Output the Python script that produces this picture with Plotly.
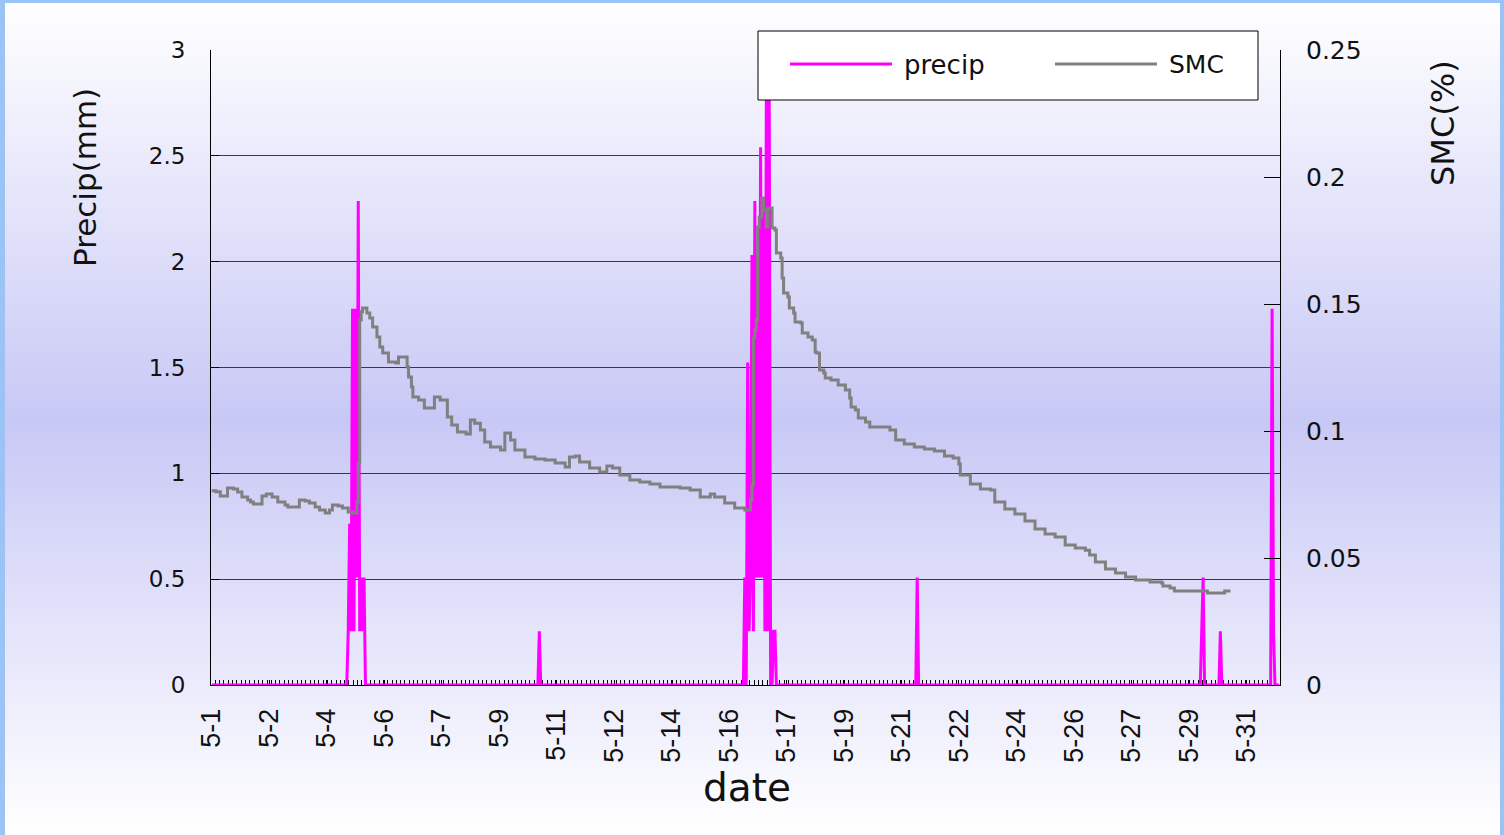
import plotly.graph_objects as go

# ---- hourly timeline for May: 744 hourly steps, labelled every 40 hours ----
N_HOURS = 744
tick_hours = [0, 40, 80, 120, 160, 200, 240, 280, 320, 360,
              400, 440, 480, 520, 560, 600, 640, 680, 720]
tick_labels = ["5-1", "5-2", "5-4", "5-6", "5-7", "5-9", "5-11", "5-12", "5-14", "5-16",
               "5-17", "5-19", "5-21", "5-22", "5-24", "5-26", "5-27", "5-29", "5-31"]

# ---- hourly precipitation (mm); hours not listed had no rain ----
rain_hours = [95, 96, 97, 98, 99, 100, 101, 102, 103, 104, 105, 106,
              228,
              371, 373, 374, 375, 376, 377, 378, 379, 380, 381, 382, 383, 384,
              385, 386, 387, 388, 391, 392,
              491,
              689, 690,
              702,
              738, 739]
rain_mm = [0.254, 0.762, 0.254, 1.778, 0.254, 1.778, 0.508, 2.286, 0.254, 0.508, 0.254, 0.508,
           0.254,
           0.508, 1.524, 0.254, 0.508, 2.032, 0.254, 2.286, 0.508, 2.032, 0.508, 2.54, 0.508, 2.286,
           0.254, 2.794, 0.254, 2.794, 0.254, 0.254,
           0.508,
           0.254, 0.508,
           0.254,
           1.778, 0.254]

# ---- soil moisture content: hour at which each recorded level begins ----
smc_hours = [0, 3, 6, 11, 15, 18, 21, 25, 27, 29, 35, 38, 42, 46, 51, 53, 61, 65, 68, 72,
             75, 79, 82, 84, 88, 91, 95, 98, 101, 102, 103, 104, 105, 108, 110, 112, 115, 117,
             119, 123, 128, 130, 136, 137, 139, 140, 144, 148, 155, 159, 164, 167, 171, 177,
             180, 183, 187, 190, 194, 201, 204, 208, 211, 218, 225, 232, 239, 246, 249, 253,
             256, 263, 270, 275, 279, 284, 291, 298, 305, 312, 326, 333, 340, 347, 350, 357,
             364, 371, 375, 376, 377, 378, 379, 380, 381, 383, 384, 386, 387, 390, 392, 393,
             396, 397, 398, 401, 402, 405, 406, 410, 411, 415, 418, 420, 421, 423, 426, 427,
             431, 436, 441, 444, 445, 448, 450, 455, 458, 472, 476, 482, 489, 496, 503, 510,
             516, 520, 521, 528, 535, 542, 545, 552, 559, 566, 573, 580, 587, 594, 601, 608,
             611, 615, 622, 629, 636, 643, 653, 661, 662, 667, 670, 693, 705, 709]
smc_values = [0.0765, 0.0761, 0.0744, 0.0776, 0.0772, 0.0760, 0.0740, 0.0728, 0.0720, 0.0713,
              0.0744, 0.0752, 0.0740, 0.0720, 0.0709, 0.0701, 0.0728, 0.0724, 0.0717, 0.0701,
              0.0689, 0.0677, 0.0689, 0.0709, 0.0705, 0.0697, 0.0681, 0.0677, 0.0720, 0.0874,
              0.1437, 0.1469, 0.1484, 0.1465, 0.1445, 0.1409, 0.1370, 0.1331, 0.1307, 0.1272,
              0.1268, 0.1291, 0.1252, 0.1213, 0.1173, 0.1134, 0.1122, 0.1091, 0.1134, 0.1122,
              0.1055, 0.1024, 0.0996, 0.0988, 0.1043, 0.1031, 0.1004, 0.0957, 0.0937, 0.0925,
              0.0992, 0.0965, 0.0925, 0.0898, 0.0890, 0.0886, 0.0874, 0.0858, 0.0898, 0.0902,
              0.0878, 0.0854, 0.0839, 0.0862, 0.0854, 0.0827, 0.0807, 0.0799, 0.0791, 0.0780,
              0.0776, 0.0768, 0.0740, 0.0752, 0.0740, 0.0717, 0.0697, 0.0689, 0.0728, 0.0787,
              0.1366, 0.1398, 0.1437, 0.1803, 0.1843, 0.1917, 0.1870, 0.1803, 0.1878, 0.1799,
              0.1791, 0.1701, 0.1681, 0.1602, 0.1543, 0.1528, 0.1484, 0.1465, 0.1429, 0.1425,
              0.1386, 0.1370, 0.1358, 0.1311, 0.1307, 0.1240, 0.1228, 0.1209, 0.1201, 0.1181,
              0.1161, 0.1130, 0.1094, 0.1083, 0.1051, 0.1035, 0.1016, 0.1004, 0.0965, 0.0949,
              0.0937, 0.0929, 0.0921, 0.0902, 0.0894, 0.0870, 0.0827, 0.0791, 0.0772, 0.0768,
              0.0720, 0.0693, 0.0673, 0.0646, 0.0614, 0.0594, 0.0583, 0.0551, 0.0539, 0.0531,
              0.0512, 0.0484, 0.0457, 0.0441, 0.0425, 0.0413, 0.0406, 0.0402, 0.0390, 0.0382,
              0.0370, 0.0362, 0.0370, 0.0370]

# full hourly precipitation series
hours = list(range(N_HOURS))
precip = [0.0] * N_HOURS
for h, v in zip(rain_hours, rain_mm):
    precip[h] = v

# ---- page geometry (pixels) ----
W, H = 1504, 835
ML, MR, MT, MB = 211, 224, 50, 150
PW, PH = W - ML - MR, H - MT - MB


def px(x):
    return (x - ML) / PW


def py(y):
    return (H - MB - y) / PH


TEXT = "#111111"
WIDE = "DejaVu Sans, Verdana, sans-serif"
NARROW = "Liberation Sans, Arial, sans-serif"

fig = go.Figure()
fig.add_trace(go.Scatter(
    x=hours, y=precip, name="precip", mode="lines",
    line=dict(color="#FF00FF", width=3), yaxis="y"))
fig.add_trace(go.Scatter(
    x=smc_hours, y=smc_values, name="SMC", mode="lines",
    line=dict(color="#808080", width=3, shape="hv"), yaxis="y2"))

# ---- background: vertical white -> lavender -> white wash, blue frame ----
shapes = []
STEP = 5
top_c, mid_c, bot_c = (255, 255, 255), (200, 200, 246), (255, 255, 255)
MID_Y = 420
for y0 in range(0, H, STEP):
    yc = y0 + STEP / 2
    if yc <= MID_Y:
        t = yc / MID_Y
        c = [a + (b - a) * t for a, b in zip(top_c, mid_c)]
    else:
        t = (yc - MID_Y) / (H - MID_Y)
        c = [a + (b - a) * t for a, b in zip(mid_c, bot_c)]
    shapes.append(dict(type="rect", xref="paper", yref="paper", layer="below",
                       x0=px(0), x1=px(W), y0=py(y0 + STEP), y1=py(y0),
                       fillcolor="rgb(%d,%d,%d)" % tuple(round(v) for v in c),
                       line=dict(width=0)))
FRAME = "#9cc3f6"
for x0, x1, y0, y1 in [(0, 5, 0, H), (0, W, 0, 3), (W - 4, W, 0, H)]:
    shapes.append(dict(type="rect", xref="paper", yref="paper", layer="below",
                       x0=px(x0), x1=px(x1), y0=py(y1), y1=py(y0),
                       fillcolor=FRAME, line=dict(width=0)))

# ---- legend box ----
shapes.append(dict(type="rect", xref="paper", yref="paper", layer="above",
                   x0=px(758), x1=px(1258), y0=py(100), y1=py(31),
                   fillcolor="white", line=dict(color="black", width=1)))
shapes.append(dict(type="line", xref="paper", yref="paper", layer="above",
                   x0=px(790), x1=px(892), y0=py(64), y1=py(64),
                   line=dict(color="#FF00FF", width=3)))
shapes.append(dict(type="line", xref="paper", yref="paper", layer="above",
                   x0=px(1055), x1=px(1157), y0=py(64), y1=py(64),
                   line=dict(color="#808080", width=3)))

annotations = [
    dict(text="precip", x=px(902), y=py(65), xref="paper", yref="paper",
         xanchor="left", yanchor="middle", showarrow=False,
         font=dict(family=WIDE, size=26, color=TEXT)),
    dict(text="SMC", x=px(1167), y=py(65), xref="paper", yref="paper",
         xanchor="left", yanchor="middle", showarrow=False,
         font=dict(family=WIDE, size=25, color=TEXT)),
    dict(text="Precip(mm)", x=px(85), y=py(178), xref="paper", yref="paper",
         xanchor="center", yanchor="middle", textangle=-90, showarrow=False,
         font=dict(family=WIDE, size=31, color=TEXT)),
    dict(text="SMC(%)", x=px(1443), y=py(123), xref="paper", yref="paper",
         xanchor="center", yanchor="middle", textangle=-90, showarrow=False,
         font=dict(family=WIDE, size=32, color=TEXT)),
    dict(text="date", x=px(747), y=py(787), xref="paper", yref="paper",
         xanchor="center", yanchor="middle", showarrow=False,
         font=dict(family=WIDE, size=39, color=TEXT)),
]

fig.update_layout(
    template="none",
    width=W, height=H,
    margin=dict(l=ML, r=MR, t=MT, b=MB, pad=0),
    paper_bgcolor="white",
    plot_bgcolor="rgba(0,0,0,0)",
    showlegend=False,
    shapes=shapes,
    annotations=annotations,
    xaxis=dict(
        range=[-0.5, N_HOURS - 0.5], automargin=False,
        tickmode="array", tickvals=tick_hours, ticktext=tick_labels,
        tickangle=-90, ticks="inside", ticklen=5, tickcolor="black",
        ticklabelstandoff=12,
        tickfont=dict(family=NARROW, size=27, color=TEXT),
        minor=dict(tickmode="linear", tick0=-0.5, dtick=3, ticks="inside",
                   ticklen=5, tickcolor="black", tickwidth=1, showgrid=False),
        showgrid=False, zeroline=False,
        showline=True, linecolor="black", linewidth=1, layer="below traces"),
    yaxis=dict(
        range=[0, 3], dtick=0.5, automargin=False,
        ticks="inside", ticklen=8, tickcolor="black", ticklabelstandoff=20,
        tickfont=dict(family=WIDE, size=23, color=TEXT),
        showgrid=True, gridcolor="#3a3a3a", gridwidth=1,
        zeroline=False, showline=True, linecolor="black", linewidth=1),
    yaxis2=dict(
        range=[0, 0.25], dtick=0.05, overlaying="y", side="right", automargin=False,
        ticks="inside", ticklen=16, tickcolor="black", ticklabelstandoff=20,
        tickfont=dict(family=WIDE, size=25, color=TEXT),
        showgrid=False, zeroline=False, showline=True, linecolor="black", linewidth=1),
)

fig.write_html("out.html")
